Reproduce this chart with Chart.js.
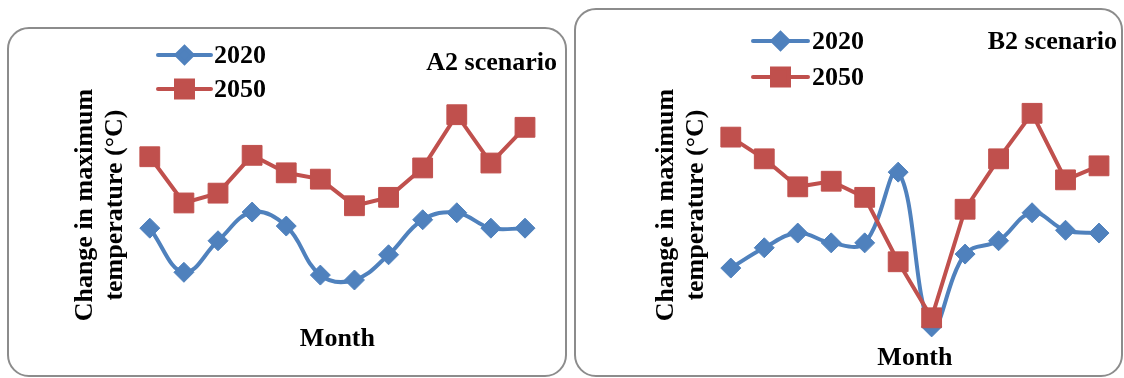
<!DOCTYPE html>
<html>
<head>
<meta charset="utf-8">
<script src="https://cdn.jsdelivr.net/npm/chart.js@4.4.1/dist/chart.umd.min.js"></script>
<style>
  html, body { margin: 0; padding: 0; background: #ffffff; }
  body { width: 1124px; height: 378px; position: relative; overflow: hidden; }
  .frame { position: absolute; box-sizing: border-box; border: 2px solid #8c8c8c; border-radius: 22px; }
  .panel { position: absolute; top: 0; height: 378px; }
</style>
</head>
<body>
<div class="frame" style="left:7px; top:27px; width:560px; height:350px;"></div>
<div class="frame" style="left:574px; top:8px; width:549px; height:369px;"></div>
<div class="panel" style="left:0; width:570px;"><canvas id="a2" width="570" height="378"></canvas></div>
<div class="panel" style="left:570px; width:554px;"><canvas id="b2" width="554" height="378"></canvas></div>
<script>
// Months along the x axis (labels are not printed, only the axis title)
const months = ['Jan', 'Feb', 'Mar', 'Apr', 'May', 'Jun', 'Jul', 'Aug', 'Sep', 'Oct', 'Nov', 'Dec'];
const seriesNames = ['2020', '2050'];

// Change in maximum temperature (°C), A2 scenario
const a2_2020 = [1.17, 0.54, 0.99, 1.40, 1.20, 0.50, 0.43, 0.79, 1.29, 1.39, 1.17, 1.17];
const a2_2050 = [2.19, 1.53, 1.67, 2.21, 1.96, 1.87, 1.49, 1.61, 2.03, 2.79, 2.10, 2.61];

// Change in maximum temperature (°C), B2 scenario
const b2_2020 = [0.60, 0.89, 1.10, 0.96, 0.96, 1.97, -0.24, 0.80, 0.99, 1.39, 1.14, 1.10];
const b2_2050 = [2.47, 2.16, 1.76, 1.84, 1.61, 0.69, -0.11, 1.44, 2.16, 2.81, 1.86, 2.06];

const BLUE = '#4F81BD';
const RED = '#C0504D';
const SERIF = '"Liberation Serif", "Times New Roman", Times, serif';

// Draws the in-plot legend (line + marker + year) and the scenario caption
const panelDecor = {
  id: 'panelDecor',
  afterDraw(chart, args, opts) {
    const ctx = chart.ctx;
    ctx.save();
    ctx.font = 'bold 26px ' + SERIF;
    ctx.fillStyle = '#000000';
    ctx.textBaseline = 'middle';
    chart.data.datasets.forEach((ds, i) => {
      const y = opts.legendY[i];
      ctx.strokeStyle = ds.borderColor;
      ctx.lineWidth = 4;
      ctx.lineCap = 'round';
      ctx.beginPath();
      ctx.moveTo(opts.legendX1, y);
      ctx.lineTo(opts.legendX2, y);
      ctx.stroke();
      ctx.fillStyle = ds.backgroundColor;
      ctx.strokeStyle = ds.borderColor;
      Chart.helpers.drawPoint(ctx, {
        pointStyle: ds.pointStyle,
        radius: ds.legendRadius,
        rotation: 0,
        borderWidth: 1
      }, (opts.legendX1 + opts.legendX2) / 2, y);
      ctx.fillStyle = '#000000';
      ctx.textAlign = 'left';
      ctx.fillText(ds.label, opts.legendTextX, y + 1);
    });
    ctx.textAlign = 'right';
    ctx.fillText(opts.caption, opts.captionX, opts.captionY);
    ctx.restore();
  }
};

function makeChart(id, s2020, s2050, cfg) {
  return new Chart(document.getElementById(id), {
    type: 'line',
    data: {
      labels: months,
      datasets: [
        {
          label: seriesNames[0], data: s2020,
          borderColor: BLUE, backgroundColor: BLUE,
          borderWidth: 4, tension: 0.4,
          pointStyle: 'rectRot', pointRadius: 10, pointBorderWidth: 1,
          legendRadius: 8, clip: false, order: 2
        },
        {
          label: seriesNames[1], data: s2050,
          borderColor: RED, backgroundColor: RED,
          borderWidth: 4, tension: 0,
          pointStyle: 'rect', pointRadius: 14, pointBorderWidth: 1,
          legendRadius: 12, clip: false, order: 1
        }
      ]
    },
    options: {
      responsive: false,
      animation: false,
      events: [],
      layout: { padding: cfg.padding },
      plugins: {
        legend: { display: false },
        tooltip: { enabled: false },
        panelDecor: cfg.decor
      },
      scales: {
        x: {
          grid: { display: false, drawTicks: false },
          border: { display: false },
          ticks: { display: false },
          title: {
            display: true, text: 'Month', color: '#000000',
            font: { family: SERIF, size: 26, weight: 'bold', lineHeight: 1.15 },
            padding: cfg.xTitlePad
          }
        },
        y: {
          min: cfg.yMin, max: cfg.yMax,
          grid: { display: false, drawTicks: false },
          border: { display: false },
          ticks: { display: false },
          title: {
            display: true, text: ['Change in maximum', 'temperature (°C)'], color: '#000000',
            font: { family: SERIF, size: 26, weight: 'bold', lineHeight: 1.15 },
            padding: { top: 4, bottom: 20 }
          }
        }
      }
    },
    plugins: [panelDecor]
  });
}

makeChart('a2', a2_2020, a2_2050, {
  padding: { left: 66, right: 45, top: 100, bottom: 0 },
  xTitlePad: { top: 14, bottom: 24 },
  yMin: 0, yMax: 3.0,
  decor: {
    legendX1: 158, legendX2: 211, legendTextX: 214, legendY: [55, 89],
    caption: 'A2 scenario', captionX: 557, captionY: 63
  }
});

makeChart('b2', b2_2020, b2_2050, {
  padding: { left: 77, right: 25, top: 72, bottom: 0 },
  xTitlePad: { top: 5, bottom: 5 },
  yMin: -0.4, yMax: 3.4,
  decor: {
    legendX1: 183, legendX2: 238, legendTextX: 242, legendY: [41, 77],
    caption: 'B2 scenario', captionX: 547, captionY: 42
  }
});
</script>
</body>
</html>
